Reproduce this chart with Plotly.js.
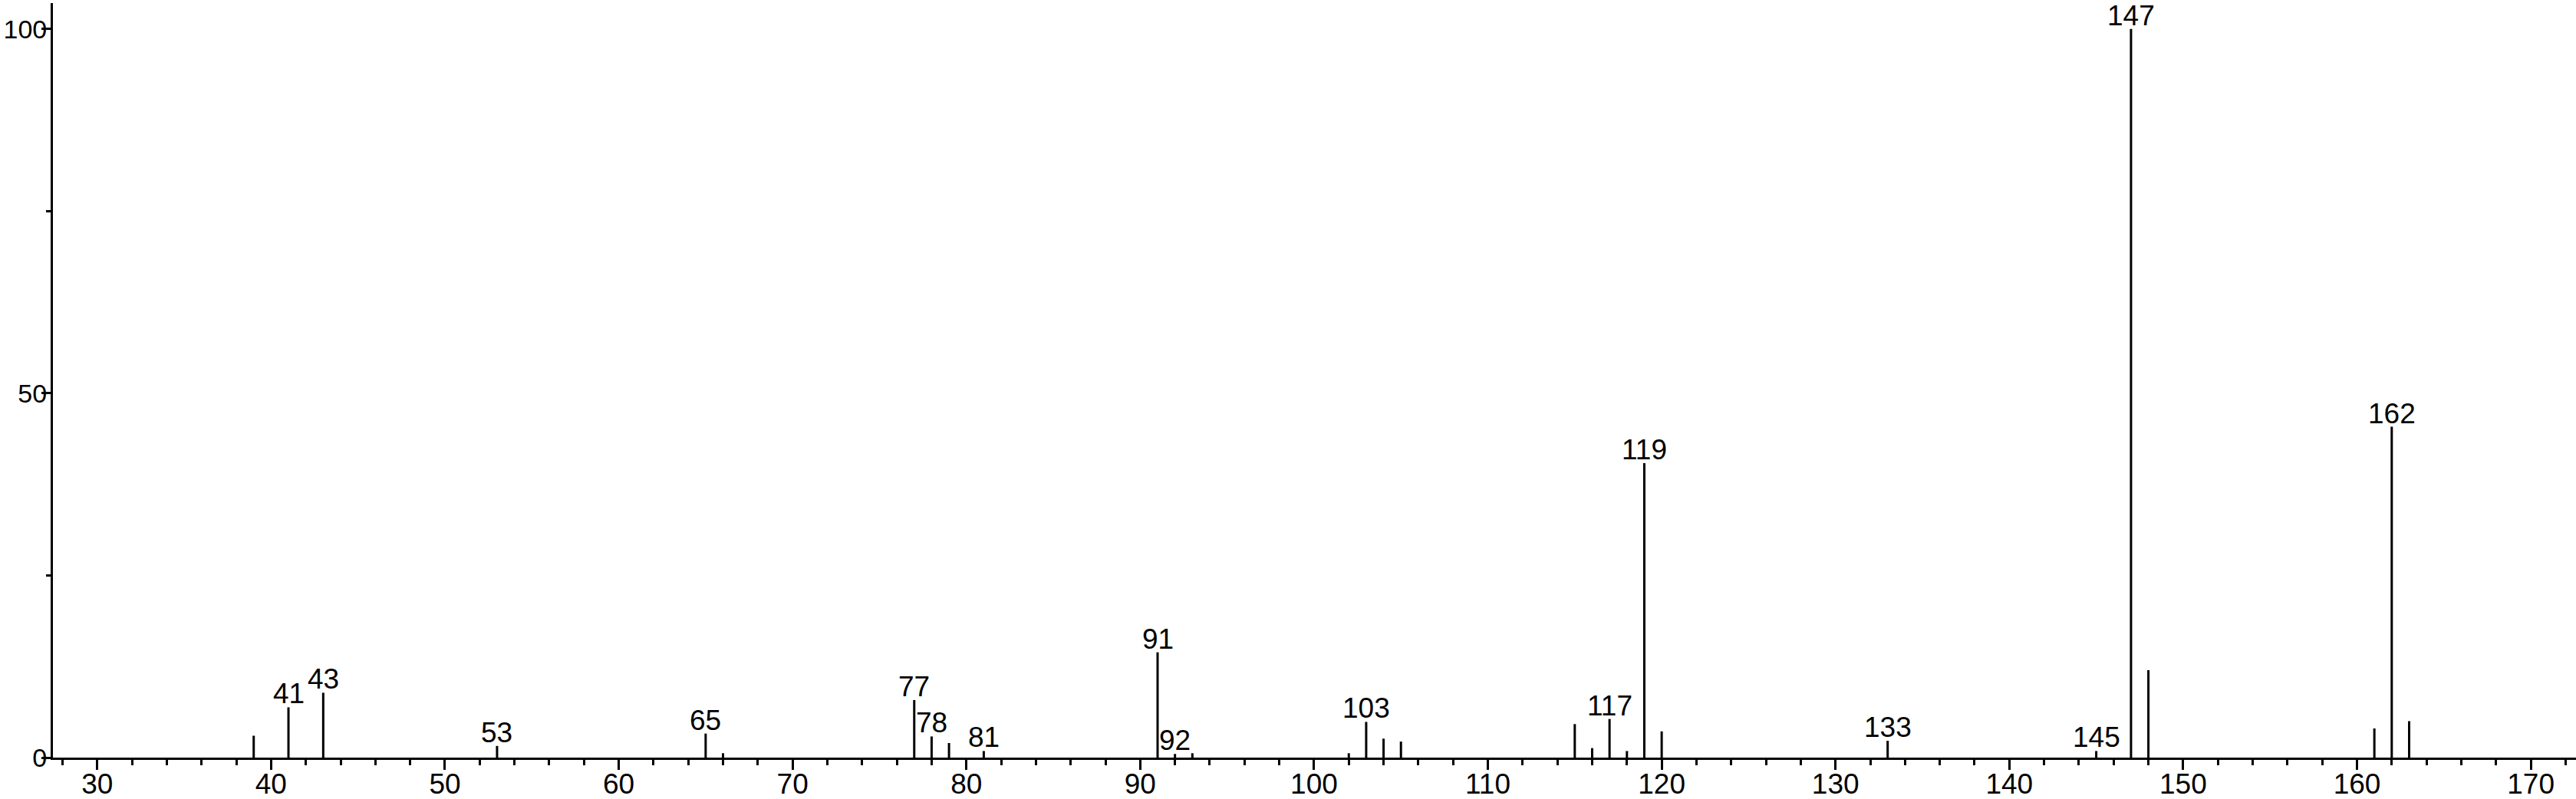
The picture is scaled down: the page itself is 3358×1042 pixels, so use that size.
<!DOCTYPE html>
<html>
<head>
<meta charset="utf-8">
<script src="https://cdn.plot.ly/plotly-3.0.1.min.js"></script>
<style>html,body{margin:0;padding:0;background:#fff;}#chart{width:3358px;height:1042px;}</style>
</head>
<body>
<div id="chart"></div>
<script>
// m/z values of the peaks
var mz = [39, 41, 43, 53, 65, 66, 77, 78, 79, 81, 91, 92, 93, 102, 103, 104, 105,
          115, 116, 117, 118, 119, 120, 133, 145, 147, 148, 161, 162, 163];
// relative intensities (%)
var intensity = [3.0, 6.9, 8.9, 1.6, 3.3, 0.6, 7.9, 2.9, 2.0, 0.9, 14.45, 0.5, 0.6, 0.6, 4.9, 2.6, 2.2,
                 4.6, 1.3, 5.3, 0.9, 40.4, 3.6, 2.3, 0.9, 100, 12.0, 4.0, 45.4, 5.0];
// peaks that carry a text label
var labelled = [41, 43, 53, 65, 77, 78, 81, 91, 92, 103, 117, 119, 133, 145, 147, 162];
// axis ticks
var xTicks = [30, 40, 50, 60, 70, 80, 90, 100, 110, 120, 130, 140, 150, 160, 170];
var yTicks = [0, 50, 100];

var FONT = "Liberation Sans, Arial, Helvetica, sans-serif";
var FS = 37;

var sx = [], sy = [];
for (var i = 0; i < mz.length; i++) {
  sx.push(mz[i], mz[i], null);
  sy.push(0, intensity[i], null);
}

var trace = {
  type: 'scatter', mode: 'lines', x: sx, y: sy,
  line: {color: '#000', width: 3}, hoverinfo: 'skip', showlegend: false
};

var annotations = labelled.map(function (m) {
  var h = intensity[mz.indexOf(m)];
  return {
    x: m, y: h, xref: 'x', yref: 'y', text: String(m), showarrow: false,
    xanchor: 'center', yanchor: 'bottom', yshift: -5,
    font: {family: FONT, size: FS, color: '#000'}
  };
});

var layout = {
  width: 3358, height: 1042,
  margin: {l: 69, r: 0, t: 4, b: 54, pad: 0},
  paper_bgcolor: '#fff', plot_bgcolor: '#fff',
  showlegend: false,
  font: {family: FONT, size: FS, color: '#000'},
  xaxis: {
    range: [27.45, 172.6], tickmode: 'array', tickvals: xTicks, ticktext: xTicks.map(String),
    ticks: 'outside', ticklen: 13, tickwidth: 3, tickcolor: '#000', ticklabelstandoff: -13,
    showline: true, linewidth: 3, linecolor: '#000', showgrid: false, zeroline: false,
    tickfont: {family: FONT, size: FS, color: '#000'}, automargin: false,
    minor: {dtick: 2, tick0: 0, ticks: 'outside', ticklen: 7, tickwidth: 3, tickcolor: '#000', showgrid: false}
  },
  yaxis: {
    range: [0, 103.55], tickmode: 'array', tickvals: yTicks, ticktext: yTicks.map(String),
    ticks: 'outside', ticklen: 12, tickwidth: 3, tickcolor: '#000', ticklabelstandoff: -14,
    showline: true, linewidth: 3, linecolor: '#000', showgrid: false, zeroline: false,
    tickfont: {family: FONT, size: 34, color: '#000'}, automargin: false,
    minor: {dtick: 25, tick0: 0, ticks: 'outside', ticklen: 6, tickwidth: 3, tickcolor: '#000', showgrid: false}
  },
  annotations: annotations
};

Plotly.newPlot('chart', [trace], layout, {staticPlot: true, displayModeBar: false});
</script>
</body>
</html>
